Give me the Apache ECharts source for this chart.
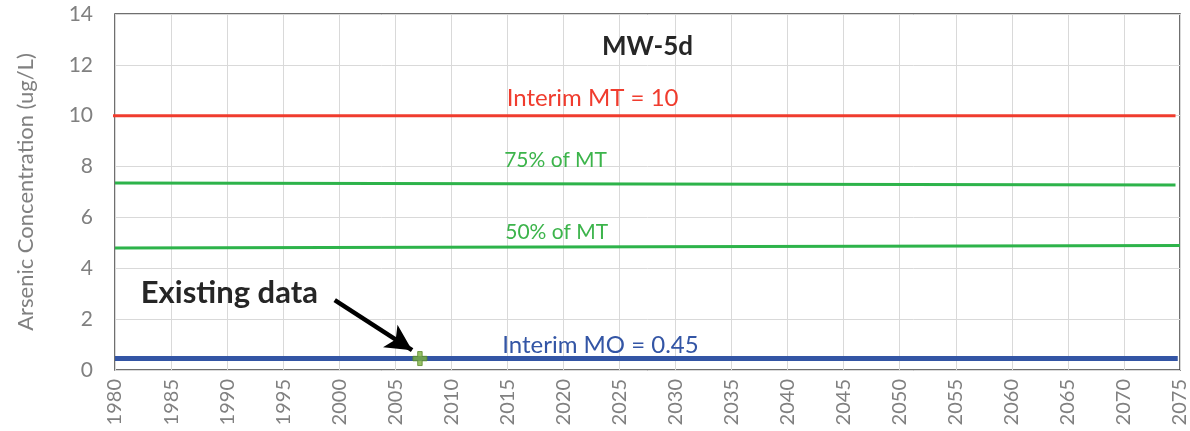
<!DOCTYPE html>
<html>
<head>
<meta charset="utf-8">
<script src="https://cdn.jsdelivr.net/npm/echarts@6/dist/echarts.min.js"></script>
<style>html,body{margin:0;padding:0;background:#fff}#c{width:1190px;height:431px}</style>
</head>
<body>
<div id="c"></div>
<script>
// ---- data ----
const xTicks = [1980, 2075, 5];          // min, max, step (years)
const yTicks = [0, 14, 2];               // min, max, step (ug/L)
const interimMT = [[1979.8, 10], [2074.6, 10]];
const mt75 = [[1980, 7.35], [2074.6, 7.28]];
const mt50 = [[1980, 4.80], [2075, 4.90]];
const interimMO = [[1980, 0.45], [2074.8, 0.45]];
const existingData = [[2007.2, 0.45]];
const arrowFrom = [1999.6, 2.75];
const arrowTo = [2006.5, 0.78];
const annotations = [
  { text: 'MW-5d', x: 2027.5, y: 12.7, kind: 'title' },
  { text: 'Interim MT = 10', x: 2022.6, y: 10.7, kind: 'red' },
  { text: '75% of MT', x: 2019.3, y: 8.26, kind: 'green' },
  { text: '50% of MT', x: 2019.4, y: 5.43, kind: 'green' },
  { text: 'Interim MO = 0.45', x: 2023.3, y: 0.98, kind: 'blue' },
  { text: 'Existing data', x: 1982.3, y: 3.03, kind: 'note' }
];

const RED = '#F03C2E', GREEN = '#2DB34A', GREENTXT = '#3CB44B', BLUE = '#3355A5';
const FONT = 'Lato, "Open Sans", sans-serif';
const styles = {
  title: { color: '#262626', fontSize: 26, fontWeight: 'bold', align: 'center' },
  red: { color: RED, fontSize: 24, align: 'center' },
  green: { color: GREENTXT, fontSize: 21, align: 'center' },
  blue: { color: BLUE, fontSize: 24, align: 'center' },
  note: { color: '#262626', fontSize: 31, fontWeight: 'bold', align: 'left' }
};

const chart = echarts.init(document.getElementById('c'), null, { renderer: 'canvas' });

function lineSeries(name, data, color, width) {
  return {
    name, type: 'line', data, symbol: 'none', silent: true,
    lineStyle: { color, width }, z: 3, animation: false
  };
}

chart.setOption({
  animation: false,
  textStyle: { fontFamily: FONT },
  grid: { left: 115, right: 5, top: 14, bottom: 61, show: true, borderColor: '#404040', borderWidth: 1.5, backgroundColor: 'transparent' },
  xAxis: {
    type: 'value', min: xTicks[0], max: xTicks[1], interval: xTicks[2],
    axisLine: { show: false }, axisTick: { show: false },
    splitLine: { show: true, lineStyle: { color: '#D9D9D9', width: 1 } },
    axisLabel: { rotate: 90, color: '#808080', fontSize: 20, fontFamily: FONT, margin: 9, formatter: v => String(v) }
  },
  yAxis: {
    type: 'value', min: yTicks[0], max: yTicks[1], interval: yTicks[2],
    name: 'Arsenic Concentration (ug/L)', nameLocation: 'middle', nameGap: 78,
    nameTextStyle: { color: '#808080', fontSize: 22, fontFamily: FONT },
    axisLine: { show: false }, axisTick: { show: false },
    splitLine: { show: true, lineStyle: { color: '#D9D9D9', width: 1 } },
    axisLabel: { color: '#808080', fontSize: 21, fontFamily: FONT, margin: 22 }
  },
  series: [
    lineSeries('Interim MT', interimMT, RED, 3),
    lineSeries('75% of MT', mt75, GREEN, 3),
    lineSeries('50% of MT', mt50, GREEN, 3),
    lineSeries('Interim MO', interimMO, BLUE, 5),
    {
      name: 'Existing data', type: 'scatter', data: existingData, z: 5,
      symbol: 'path://M3.4,0H6.6V3.4H10V6.6H6.6V10H3.4V6.6H0V3.4H3.4Z', symbolSize: 14,
      itemStyle: { color: '#7DB23F', borderColor: '#5A8A2A', borderWidth: 1 },
      markLine: {
        silent: true, animation: false, z: 4,
        symbol: ['none', 'arrow'], symbolSize: [20, 26],
        lineStyle: { color: '#000000', width: 4.5, type: 'solid' },
        label: { show: false },
        data: [[{ coord: arrowFrom }, { coord: arrowTo }]]
      }
    },
    {
      name: 'labels', type: 'scatter', symbolSize: 0, silent: true, z: 6,
      itemStyle: { opacity: 1 },
      data: annotations.map(a => ({
        value: [a.x, a.y],
        label: Object.assign({ show: true, position: 'inside', formatter: a.text, fontFamily: FONT, verticalAlign: 'middle', textBorderWidth: 0, opacity: 1 }, styles[a.kind])
      }))
    }
  ]
});
</script>
</body>
</html>
